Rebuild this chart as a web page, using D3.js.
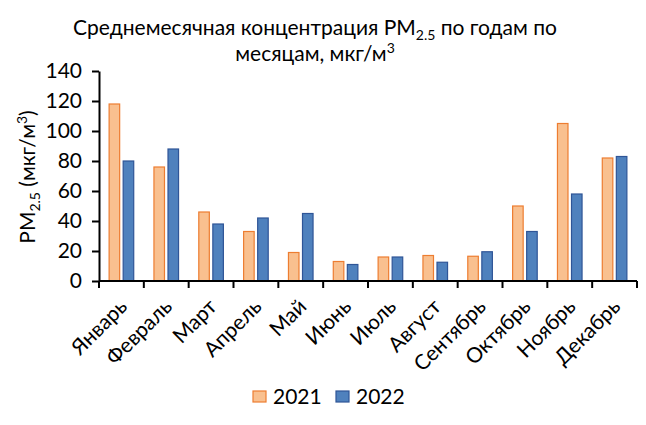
<!DOCTYPE html>
<html>
<head>
<meta charset="utf-8">
<script src="https://cdn.jsdelivr.net/npm/d3@7"></script>
<style>
  body { margin: 0; background: #fff; }
  svg { display: block; font-family: Lato, "Open Sans", sans-serif; }
</style>
</head>
<body>
<svg id="chart" width="646" height="425"></svg>
<script>
const months = ['Январь', 'Февраль', 'Март', 'Апрель', 'Май', 'Июнь',
  'Июль', 'Август', 'Сентябрь', 'Октябрь', 'Ноябрь', 'Декабрь'];
const years = ['2021', '2022'];
const values2021 = [118, 76, 46, 33, 19, 13, 16, 17, 16.5, 50, 105, 82];
const values2022 = [80, 88, 38, 42, 45, 11, 16, 12.5, 19.5, 33, 58, 83];
const yTicks = [0, 20, 40, 60, 80, 100, 120, 140];

const fills = { '2021': '#f9c08f', '2022': '#4f81bd' };
const strokes = { '2021': '#ed7d31', '2022': '#2f5597' };

const width = 646, height = 425;
const margin = { top: 71, right: 9, bottom: 144, left: 99 };

const svg = d3.select('#chart');

const rows = months.map((m, i) => ({
  month: m,
  vals: [
    { year: '2021', v: values2021[i] },
    { year: '2022', v: values2022[i] }
  ]
}));

const x = d3.scaleBand()
  .domain(months)
  .range([margin.left, width - margin.right]);

const xInner = d3.scaleBand()
  .domain(years)
  .range([0, x.bandwidth()])
  .paddingInner(0.25)
  .paddingOuter(0.72);

const y = d3.scaleLinear()
  .domain([0, 140])
  .range([height - margin.bottom, margin.top]);

// title
const title = svg.append('text')
  .attr('text-anchor', 'middle')
  .attr('font-size', 21)
  .attr('fill', '#000');
const t1 = title.append('tspan').attr('x', 315).attr('y', 35);
t1.append('tspan').text('Среднемесячная концентрация PM');
t1.append('tspan').attr('font-size', 14).attr('dy', 5).text('2.5');
t1.append('tspan').attr('dy', -5).text(' по годам по');
const t2 = title.append('tspan').attr('x', 315).attr('y', 61);
t2.append('tspan').text('месяцам, мкг/м');
t2.append('tspan').attr('font-size', 14).attr('dy', -8).text('3');

// bars
const groups = svg.append('g')
  .selectAll('g')
  .data(rows)
  .join('g')
  .attr('transform', d => `translate(${x(d.month)},0)`);

groups.selectAll('rect')
  .data(d => d.vals)
  .join('rect')
  .attr('x', d => xInner(d.year))
  .attr('width', xInner.bandwidth())
  .attr('y', d => y(d.v))
  .attr('height', d => y(0) - y(d.v))
  .attr('fill', d => fills[d.year])
  .attr('stroke', d => strokes[d.year])
  .attr('stroke-width', 1.2);

// y axis
const yAxis = svg.append('g')
  .attr('transform', `translate(${margin.left},0)`)
  .call(d3.axisLeft(y).tickValues(yTicks).tickSize(7).tickPadding(10).tickSizeOuter(0));
yAxis.select('.domain').attr('stroke', '#000').attr('stroke-width', 2);
yAxis.selectAll('.tick line').attr('stroke', '#000').attr('stroke-width', 2);
yAxis.selectAll('.tick text')
  .attr('font-size', 21)
  .attr('font-family', 'Lato, sans-serif')
  .attr('fill', '#000');

// x axis with ticks between categories
const xAxis = svg.append('g')
  .attr('transform', `translate(0,${y(0)})`);
xAxis.append('line')
  .attr('x1', margin.left).attr('x2', width - margin.right)
  .attr('stroke', '#000').attr('stroke-width', 2);
const bounds = months.map(m => x(m)).concat([x.range()[1]]);
xAxis.selectAll('line.tk')
  .data(bounds)
  .join('line')
  .attr('class', 'tk')
  .attr('x1', d => d).attr('x2', d => d)
  .attr('y1', 0).attr('y2', 7)
  .attr('stroke', '#000').attr('stroke-width', 2);
xAxis.selectAll('text')
  .data(months)
  .join('text')
  .attr('text-anchor', 'end')
  .attr('font-size', 21)
  .attr('fill', '#000')
  .attr('transform', d => `translate(${x(d) + x.bandwidth() / 2 + 7},${27}) rotate(-45)`)
  .text(d => d);

// y axis title
const yt = svg.append('text')
  .attr('text-anchor', 'middle')
  .attr('font-size', 21)
  .attr('fill', '#000')
  .attr('transform', 'translate(35,177) rotate(-90)');
yt.append('tspan').text('PM');
yt.append('tspan').attr('font-size', 14).attr('dy', 5).text('2.5');
yt.append('tspan').attr('dy', -5).text(' (мкг/м');
yt.append('tspan').attr('font-size', 14).attr('dy', -8).text('3');
yt.append('tspan').attr('dy', 8).text(')');

// legend
const legend = svg.append('g')
  .selectAll('g')
  .data(years)
  .join('g')
  .attr('transform', (d, i) => `translate(${253 + i * 83},391)`);
legend.append('rect')
  .attr('width', 13).attr('height', 11)
  .attr('fill', d => fills[d])
  .attr('stroke', d => strokes[d])
  .attr('stroke-width', 1.2);
legend.append('text')
  .attr('x', 20).attr('y', 13)
  .attr('font-size', 21)
  .attr('fill', '#000')
  .text(d => d);
</script>
</body>
</html>
